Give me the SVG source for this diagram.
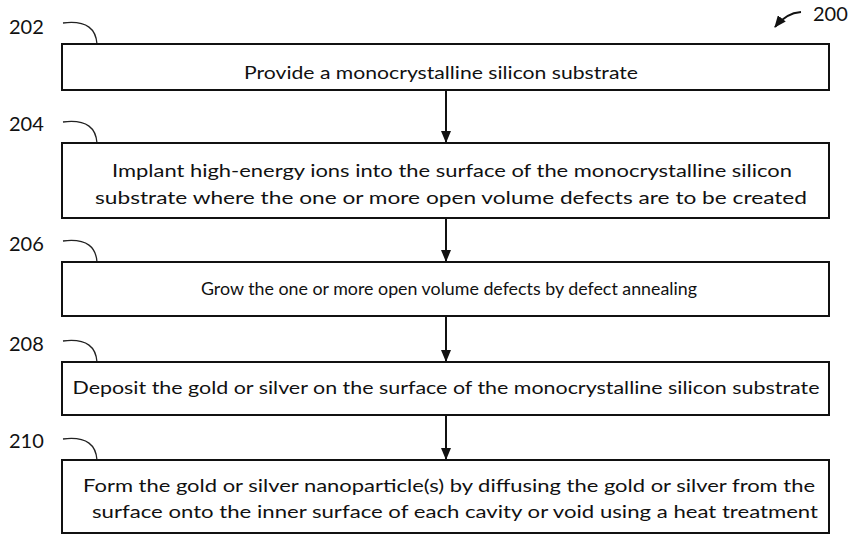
<svg xmlns="http://www.w3.org/2000/svg" width="852" height="535" viewBox="0 0 852 535">
<defs>
<style>
.box{fill:#fff;stroke:#111;stroke-width:2}
.t{font-family:Lato,"Liberation Sans",Arial,sans-serif;font-size:18px;fill:#111;text-anchor:middle}
.lab{font-family:Lato,"Liberation Sans",Arial,sans-serif;font-size:20px;fill:#111}
.lead{fill:none;stroke:#222;stroke-width:1.3}
.conn{fill:none;stroke:#111;stroke-width:2}
</style>
<marker id="ah" viewBox="0 0 12 10" refX="12" refY="5" markerWidth="12" markerHeight="10" markerUnits="userSpaceOnUse" orient="auto">
<path d="M0,0 L12,5 L0,10 Z" fill="#111"/>
</marker>
<marker id="ah2" viewBox="0 0 12 10" refX="11" refY="5" markerWidth="12" markerHeight="10" markerUnits="userSpaceOnUse" orient="auto">
<path d="M0,0 L12,5 L0,10 Z" fill="#111"/>
</marker>
</defs>
<rect width="852" height="535" fill="#fff"/>

<g id="fig-label">
<text class="lab" x="813" y="21">200</text>
<path class="conn" d="M801,12 Q786,13 775,27" stroke-width="2.5" marker-end="url(#ah2)"/>
</g>

<g id="n202">
<text class="lab" x="9" y="34">202</text>
<path class="lead" d="M63,23 C88,20 96,30 97,44"/>
<rect class="box" x="62" y="44" width="767" height="46"/>
<text class="t" x="441" y="79" textLength="394" lengthAdjust="spacingAndGlyphs">Provide a monocrystalline silicon substrate</text>
</g>

<g id="n204">
<text class="lab" x="9" y="131">204</text>
<path class="lead" d="M63,122 C88,119 96,129 97,143"/>
<rect class="box" x="62" y="143" width="767" height="75"/>
<text class="t" x="452" y="177" textLength="680" lengthAdjust="spacingAndGlyphs">Implant high-energy ions into the surface of the monocrystalline silicon</text>
<text class="t" x="451" y="204" textLength="712" lengthAdjust="spacingAndGlyphs">substrate where the one or more open volume defects are to be created</text>
</g>

<g id="n206">
<text class="lab" x="9" y="251">206</text>
<path class="lead" d="M63,241 C88,238 96,248 97,262"/>
<rect class="box" x="62" y="262" width="767" height="54"/>
<text class="t" x="449" y="295" textLength="496" lengthAdjust="spacingAndGlyphs">Grow the one or more open volume defects by defect annealing</text>
</g>

<g id="n208">
<text class="lab" x="9" y="351">208</text>
<path class="lead" d="M63,341 C88,338 96,348 97,362"/>
<rect class="box" x="62" y="362" width="767" height="53"/>
<text class="t" x="446" y="394" textLength="747" lengthAdjust="spacingAndGlyphs">Deposit the gold or silver on the surface of the monocrystalline silicon substrate</text>
</g>

<g id="n210">
<text class="lab" x="9" y="448">210</text>
<path class="lead" d="M63,439 C88,436 96,446 97,460"/>
<rect class="box" x="62" y="460" width="767" height="73"/>
<text class="t" x="449" y="492" textLength="732" lengthAdjust="spacingAndGlyphs">Form the gold or silver nanoparticle(s) by diffusing the gold or silver from the</text>
<text class="t" x="455" y="518" textLength="726" lengthAdjust="spacingAndGlyphs">surface onto the inner surface of each cavity or void using a heat treatment</text>
</g>

<g id="connectors">
<line class="conn" x1="446" y1="90" x2="446" y2="143" marker-end="url(#ah)"/>
<line class="conn" x1="446" y1="218" x2="446" y2="262" marker-end="url(#ah)"/>
<line class="conn" x1="446" y1="316" x2="446" y2="362" marker-end="url(#ah)"/>
<line class="conn" x1="446" y1="415" x2="446" y2="460" marker-end="url(#ah)"/>
</g>
</svg>
